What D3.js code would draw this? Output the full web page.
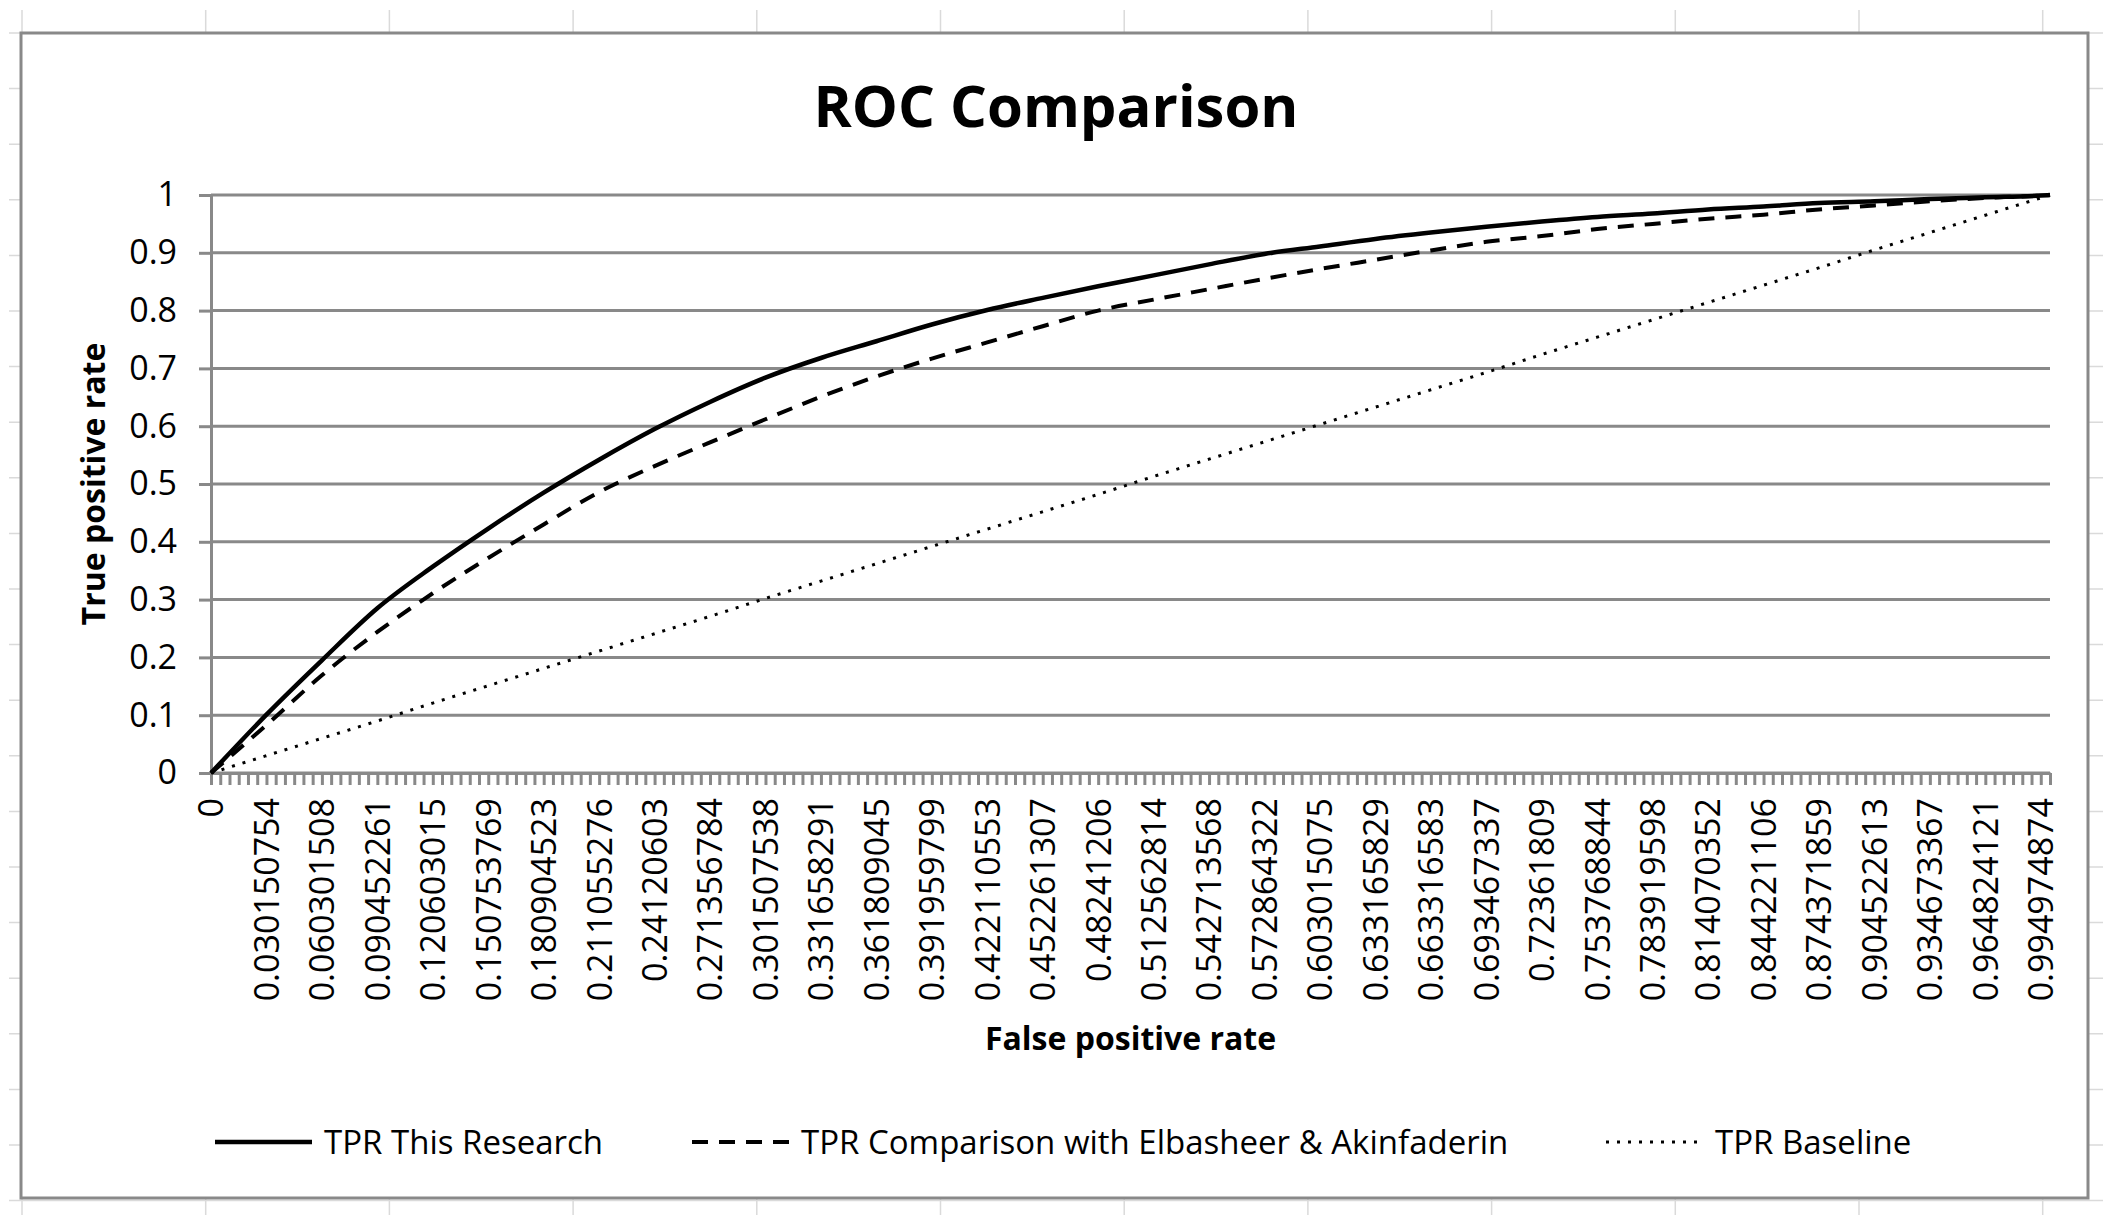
<!DOCTYPE html>
<html>
<head>
<meta charset="utf-8">
<script src="https://cdn.jsdelivr.net/npm/d3@7"></script>
<style>
  body { margin: 0; background: #fff; }
  svg { display: block; font-family: "Open Sans", sans-serif; }
</style>
</head>
<body>
<svg id="chart" width="2103" height="1215"></svg>
<script>
// category labels shown under the x axis (every 6th of 200 categories)
var tickLabels = ["0", "0.030150754", "0.060301508", "0.090452261", "0.120603015", "0.150753769",
    "0.180904523", "0.211055276", "0.24120603", "0.271356784", "0.301507538", "0.331658291",
    "0.361809045", "0.391959799", "0.422110553", "0.452261307", "0.48241206", "0.512562814",
    "0.542713568", "0.572864322", "0.603015075", "0.633165829", "0.663316583", "0.693467337",
    "0.72361809", "0.753768844", "0.783919598", "0.814070352", "0.844221106", "0.874371859",
    "0.904522613", "0.934673367", "0.964824121", "0.994974874"];

// category index of each point
var sampleIdx = [0, 6, 12, 18, 24, 30, 36, 42, 48, 54, 60, 66, 72, 78, 84, 90, 96, 102, 108,
    114, 120, 126, 132, 138, 144, 150, 156, 162, 168, 174, 180, 186, 192, 198, 199];

var tprResearch = [0, 0.101, 0.195, 0.285, 0.357, 0.423, 0.485, 0.542, 0.595, 0.642, 0.684,
    0.718, 0.747, 0.776, 0.801, 0.822, 0.842, 0.861, 0.88, 0.898, 0.911, 0.924, 0.935, 0.945,
    0.954, 0.962, 0.968, 0.975, 0.98, 0.986, 0.989, 0.993, 0.996, 0.999, 1];

var tprElbasheer = [0, 0.083, 0.169, 0.244, 0.311, 0.372, 0.43, 0.486, 0.531, 0.572, 0.612,
    0.651, 0.686, 0.717, 0.745, 0.773, 0.8, 0.819, 0.837, 0.855, 0.872, 0.888, 0.904, 0.919,
    0.929, 0.941, 0.95, 0.959, 0.966, 0.975, 0.982, 0.989, 0.995, 0.999, 1];

var tprBaseline = [0, 0.03, 0.06, 0.09, 0.121, 0.151, 0.181, 0.211, 0.241, 0.271, 0.302,
    0.332, 0.362, 0.392, 0.422, 0.452, 0.482, 0.513, 0.543, 0.573, 0.603, 0.633, 0.663, 0.693,
    0.724, 0.754, 0.784, 0.814, 0.844, 0.874, 0.905, 0.935, 0.965, 0.995, 1];

var yTicks = [0, 0.1, 0.2, 0.3, 0.4, 0.5, 0.6, 0.7, 0.8, 0.9, 1];

var seriesNames = ["TPR This Research", "TPR Comparison with Elbasheer & Akinfaderin", "TPR Baseline"];

var svg = d3.select("#chart");
var gray = "#898989";

// spreadsheet cell lines peeking out around the chart
var colW = 183.7, rowH = 55.6;
for (var cx = 22; cx < 2103; cx += colW) {
    svg.append("line").attr("x1", cx).attr("x2", cx).attr("y1", 10).attr("y2", 1215)
        .attr("stroke", "#dadada").attr("stroke-width", 1.5);
}
for (var cy = 33; cy < 1215; cy += rowH) {
    svg.append("line").attr("x1", 9).attr("x2", 2103).attr("y1", cy).attr("y2", cy)
        .attr("stroke", "#dadada").attr("stroke-width", 1.5);
}

// chart area
svg.append("rect").attr("x", 21).attr("y", 33).attr("width", 2067).attr("height", 1165)
    .attr("fill", "#fff").attr("stroke", gray).attr("stroke-width", 3);

var plotLeft = 211, plotRight = 2050, plotTop = 195, plotBottom = 773;

var x = d3.scalePoint().domain(d3.range(200)).range([plotLeft, plotRight]);
var y = d3.scaleLinear().domain([0, 1]).range([plotBottom, plotTop]);

// title
svg.append("text").attr("x", 1056).attr("y", 127).attr("text-anchor", "middle")
    .attr("font-size", 58).attr("font-weight", "bold").text("ROC Comparison");

// gridlines
svg.append("g").selectAll("line").data(yTicks).join("line")
    .attr("x1", plotLeft).attr("x2", plotRight)
    .attr("y1", d => y(d)).attr("y2", d => y(d))
    .attr("stroke", gray).attr("stroke-width", 3);

// y axis
var yAxis = svg.append("g").attr("transform", `translate(${plotLeft},0)`)
    .call(d3.axisLeft(y).tickValues(yTicks).tickSize(12).tickSizeOuter(0).tickPadding(22).tickFormat(d3.format("")));
yAxis.selectAll("line, path").attr("stroke", gray).attr("stroke-width", 3);
yAxis.selectAll("text").attr("font-size", 34).attr("font-family", "Open Sans").attr("fill", "#000");

// x axis: a tick on every category, a label on every 6th
var xAxis = svg.append("g").attr("transform", `translate(0,${plotBottom})`)
    .call(d3.axisBottom(x).tickSize(12).tickSizeOuter(0)
        .tickFormat(d => d % 6 === 0 ? tickLabels[d / 6] : ""));
xAxis.selectAll("line, path").attr("stroke", gray).attr("stroke-width", 3);
xAxis.selectAll("text")
    .attr("font-size", 34).attr("font-family", "Open Sans").attr("fill", "#000")
    .attr("text-anchor", "end")
    .attr("transform", "rotate(-90)")
    .attr("x", -25).attr("y", 0).attr("dy", "0.35em");

// axis titles
svg.append("text").attr("x", (plotLeft + plotRight) / 2).attr("y", 1050).attr("text-anchor", "middle")
    .attr("font-size", 32).attr("font-weight", "bold").text("False positive rate");
svg.append("text").attr("transform", `translate(105,${(plotTop + plotBottom) / 2}) rotate(-90)`)
    .attr("text-anchor", "middle").attr("font-size", 32).attr("font-weight", "bold")
    .text("True positive rate");

// lines
var styles = [
    { w: 4.5, dash: null, data: tprResearch },
    { w: 4, dash: "16,11", data: tprElbasheer },
    { w: 3, dash: "3,8", data: tprBaseline }
];

var line = d3.line()
    .x((d, i) => x(sampleIdx[i]))
    .y(d => y(d))
    .curve(d3.curveMonotoneX);

styles.slice().reverse().forEach(function(s) {
    svg.append("path").datum(s.data)
        .attr("d", line)
        .attr("fill", "none")
        .attr("stroke", "#000")
        .attr("stroke-width", s.w)
        .attr("stroke-dasharray", s.dash)
        .attr("stroke-linejoin", "round");
});

// legend
var legendX = [215, 692, 1606];
var legendY = 1142;
styles.forEach(function(s, i) {
    svg.append("line").attr("x1", legendX[i]).attr("x2", legendX[i] + 97)
        .attr("y1", legendY).attr("y2", legendY)
        .attr("stroke", "#000").attr("stroke-width", s.w)
        .attr("stroke-dasharray", s.dash);
    svg.append("text").attr("x", legendX[i] + 109).attr("y", legendY).attr("dy", "0.35em")
        .attr("font-size", 33).text(seriesNames[i]);
});
</script>
</body>
</html>
